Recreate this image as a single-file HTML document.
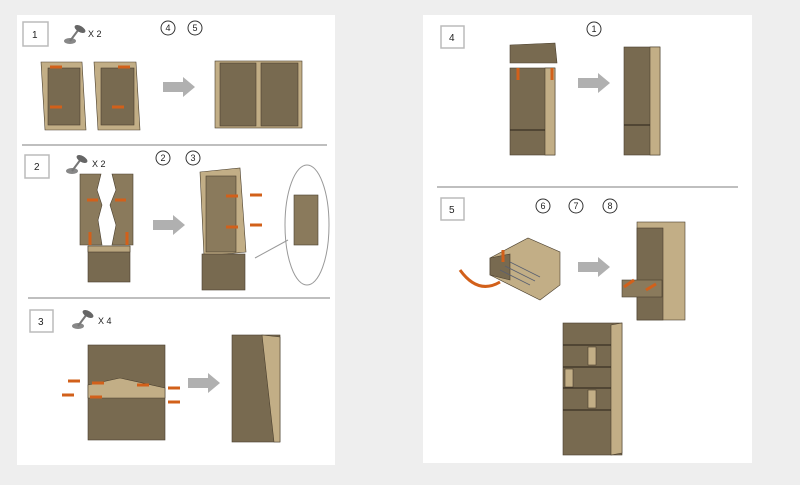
<!DOCTYPE html>
<html><head><meta charset="utf-8"><style>
html,body{margin:0;padding:0;width:800px;height:485px;overflow:hidden;background:#eeeeee;}
svg{display:block}
text{font-family:"Liberation Sans",sans-serif;}
</style></head><body>
<svg width="800" height="485" viewBox="0 0 800 485" xmlns="http://www.w3.org/2000/svg">
<defs>
<g id="screw"><ellipse cx="8" cy="17" rx="6" ry="3" fill="#888"/><line x1="8" y1="17" x2="17" y2="5" stroke="#777" stroke-width="2"/><ellipse cx="18" cy="5" rx="6" ry="3" fill="#666" transform="rotate(30 18 5)"/></g>
<g id="arr"><polygon points="0,-5 20,-5 20,-10 32,0 20,10 20,5 0,5" fill="#b0b0b0"/></g>
</defs>
<rect x="17" y="15" width="318" height="450" fill="#fff"/>
<rect x="423" y="15" width="329" height="448" fill="#fff"/>
<g fill="none" stroke="#aaa" stroke-width="1.5">
<line x1="22" y1="145" x2="327" y2="145"/>
<line x1="28" y1="298" x2="330" y2="298"/>
<line x1="437" y1="187" x2="738" y2="187"/>
</g>
<g fill="#fff" stroke="#bbb" stroke-width="1.5">
<rect x="23" y="22" width="25" height="24"/><rect x="25" y="155" width="24" height="23"/>
<rect x="30" y="310" width="23" height="22"/><rect x="441" y="26" width="23" height="22"/>
<rect x="441" y="198" width="23" height="22"/></g>
<g font-size="10" fill="#222">
<text x="32" y="38">1</text><text x="34" y="170">2</text><text x="38" y="325">3</text>
<text x="449" y="41">4</text><text x="449" y="213">5</text>
<text x="88" y="37" font-size="9">X 2</text><text x="92" y="167" font-size="9">X 2</text><text x="98" y="324" font-size="9">X 4</text>
</g>
<use href="#screw" x="62" y="24"/><use href="#screw" x="64" y="154"/><use href="#screw" x="70" y="309"/>
<g fill="none" stroke="#333" stroke-width="1">
<circle cx="168" cy="28" r="7"/><circle cx="195" cy="28" r="7"/><circle cx="163" cy="158" r="7"/><circle cx="193" cy="158" r="7"/>
<circle cx="594" cy="29" r="7"/><circle cx="543" cy="206" r="7"/><circle cx="576" cy="206" r="7"/><circle cx="610" cy="206" r="7"/>
</g>
<g font-size="9" fill="#222" text-anchor="middle">
<text x="168" y="31">4</text><text x="195" y="31">5</text><text x="163" y="161">2</text><text x="193" y="161">3</text>
<text x="594" y="32">1</text><text x="543" y="209">6</text><text x="576" y="209">7</text><text x="610" y="209">8</text>
</g>
<use href="#arr" x="163" y="87"/><use href="#arr" x="153" y="225"/><use href="#arr" x="188" y="383"/>
<use href="#arr" x="578" y="83"/><use href="#arr" x="578" y="267"/>
<g stroke="#4a3f2e" stroke-width="0.6">
<!-- step1 -->
<polygon points="41,62 82,62 86,130 45,130" fill="#c2ae86"/><rect x="48" y="68" width="32" height="57" fill="#786a50"/>
<polygon points="94,62 136,62 140,130 98,130" fill="#c2ae86"/><rect x="101" y="68" width="33" height="57" fill="#786a50"/>
<rect x="215" y="61" width="87" height="67" fill="#c2ae86"/><rect x="220" y="63" width="36" height="63" fill="#786a50"/><rect x="261" y="63" width="37" height="63" fill="#786a50"/>
<!-- step2 -->
<polygon points="80,174 101,174 97,190 102,205 98,220 102,245 80,245" fill="#8a7a5c"/>
<polygon points="112,174 133,174 133,245 112,245 116,225 110,205 116,190" fill="#8a7a5c"/>
<rect x="88" y="246" width="42" height="36" fill="#786a50"/><rect x="88" y="246" width="42" height="6" fill="#b9a57e"/>
<polygon points="200,172 240,168 246,252 204,256" fill="#c2ae86"/><rect x="206" y="176" width="30" height="76" fill="#8a7a5c"/>
<rect x="202" y="254" width="43" height="36" fill="#786a50"/>
<!-- step3 -->
<rect x="88" y="345" width="77" height="95" fill="#786a50"/><polygon points="88,385 120,378 165,388 165,398 88,398" fill="#c2ae86"/>
<rect x="232" y="335" width="48" height="107" fill="#786a50"/><polygon points="262,335 280,337 280,442 274,442" fill="#c2ae86"/>
<!-- step4 -->
<polygon points="510,45 555,43 557,63 510,63" fill="#786a50"/>
<rect x="510" y="68" width="45" height="87" fill="#786a50"/><rect x="545" y="68" width="10" height="87" fill="#c2ae86"/>
<rect x="624" y="47" width="36" height="108" fill="#786a50"/><rect x="650" y="47" width="10" height="108" fill="#c2ae86"/>
<!-- step5 -->
<polygon points="490,258 528,238 560,252 560,285 540,300 490,275" fill="#c2ae86"/><polygon points="490,258 510,254 510,280 490,275" fill="#786a50"/>
<rect x="637" y="222" width="48" height="98" fill="#c2ae86"/><rect x="637" y="228" width="26" height="92" fill="#786a50"/>
<rect x="622" y="280" width="40" height="17" fill="#8a7a5c"/>
<rect x="563" y="323" width="59" height="132" fill="#786a50"/><polygon points="611,325 622,323 622,453 611,455" fill="#c2ae86"/>
<rect x="588" y="347" width="8" height="18" fill="#c2ae86"/><rect x="565" y="369" width="8" height="18" fill="#c2ae86"/><rect x="588" y="390" width="8" height="18" fill="#c2ae86"/>
</g>
<g stroke="#2a2218" stroke-width="1">
<line x1="563" y1="345" x2="611" y2="345"/><line x1="563" y1="367" x2="611" y2="367"/><line x1="563" y1="388" x2="611" y2="388"/><line x1="563" y1="410" x2="611" y2="410"/>
<line x1="510" y1="130" x2="545" y2="130"/><line x1="624" y1="125" x2="650" y2="125"/>
<g stroke="#5a6070" stroke-width="0.8"><line x1="500" y1="270" x2="530" y2="285"/><line x1="505" y1="266" x2="535" y2="281"/><line x1="510" y1="262" x2="540" y2="277"/></g>
</g>
<g fill="none" stroke="#999" stroke-width="1"><ellipse cx="307" cy="225" rx="22" ry="60"/><line x1="255" y1="258" x2="288" y2="240"/></g>
<rect x="294" y="195" width="24" height="50" fill="#8a7a5c" stroke="#4a3f2e" stroke-width="0.6"/>
<g stroke="#d2601a" stroke-width="3" fill="none">
<line x1="50" y1="67" x2="62" y2="67"/><line x1="50" y1="107" x2="62" y2="107"/><line x1="118" y1="67" x2="130" y2="67"/><line x1="112" y1="107" x2="124" y2="107"/>
<line x1="87" y1="200" x2="98" y2="200"/><line x1="115" y1="200" x2="126" y2="200"/><line x1="90" y1="232" x2="90" y2="245"/><line x1="127" y1="232" x2="127" y2="245"/>
<line x1="226" y1="196" x2="238" y2="196"/><line x1="226" y1="227" x2="238" y2="227"/><line x1="250" y1="195" x2="262" y2="195"/><line x1="250" y1="225" x2="262" y2="225"/>
<line x1="68" y1="381" x2="80" y2="381"/><line x1="62" y1="395" x2="74" y2="395"/><line x1="92" y1="383" x2="104" y2="383"/><line x1="90" y1="397" x2="102" y2="397"/><line x1="137" y1="385" x2="149" y2="385"/><line x1="168" y1="388" x2="180" y2="388"/><line x1="168" y1="402" x2="180" y2="402"/>
<line x1="518" y1="68" x2="518" y2="80"/><line x1="552" y1="68" x2="552" y2="80"/><line x1="503" y1="250" x2="503" y2="262"/>
<path d="M500,282 Q478,295 460,270"/><line x1="624" y1="287" x2="634" y2="280"/><line x1="646" y1="290" x2="656" y2="284"/>
</g>
</svg>
</body></html>
